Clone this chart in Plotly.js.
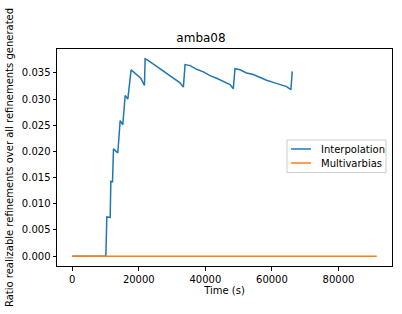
<!DOCTYPE html>
<html>
<head>
<meta charset="utf-8">
<script src="https://cdn.plot.ly/plotly-3.0.1.min.js"></script>
<style>html,body{margin:0;padding:0;background:#fff}#c{width:402px;height:314px}</style>
</head>
<body>
<div id="c"></div>
<script>
const interpTime = [0, 5000, 10100, 10400, 11400, 11600, 12100, 12400, 13700, 14400, 15200, 15900, 16700, 17700, 18400, 19400, 20600, 21700, 21900, 22800, 24400, 26400, 28400, 30400, 32400, 33400, 33900, 35400, 37400, 39400, 41400, 43400, 45400, 47400, 48400, 48900, 50400, 52400, 54400, 56400, 58400, 60400, 62400, 64400, 65700, 66100];
const interpRatio = [0, 0, 0, 0.0075, 0.0074, 0.0143, 0.0142, 0.0205, 0.0197, 0.0259, 0.0251, 0.0307, 0.0300, 0.0356, 0.0352, 0.0348, 0.0340, 0.0326, 0.0377, 0.0374, 0.0367, 0.0358, 0.0348, 0.0340, 0.0331, 0.0323, 0.0366, 0.0364, 0.0357, 0.0352, 0.0345, 0.0340, 0.0334, 0.0328, 0.0320, 0.0358, 0.0356, 0.0350, 0.0347, 0.0341, 0.0336, 0.0332, 0.0328, 0.0324, 0.0318, 0.0353];
const multiTime = [0, 91500];
const multiRatio = [0, 0];
const seriesNames = ["Interpolation", "Multivarbias"];
const seriesColors = ["#1f77b4", "#ff7f0e"];
const yTicks = [0, 0.005, 0.010, 0.015, 0.020, 0.025, 0.030, 0.035];
const xTicks = [0, 20000, 40000, 60000, 80000];

const font = {family: "DejaVu Sans", size: 10, color: "#000"};
const axisCommon = {
  showline: true, linecolor: "#000", linewidth: 1, mirror: true,
  ticks: "outside", ticklen: 3.5, tickwidth: 1, tickcolor: "#000",
  showgrid: false, zeroline: false, tickfont: font
};

// manual matplotlib-style legend (paper coordinates)
const W = 335, H = 217, L = 57, B = 266;
const px = v => (v - L) / W, py = v => (B - v) / H;
const legRows = [149, 163];
const shapes = [{type: "rect", xref: "paper", yref: "paper", x0: px(287), x1: px(386), y0: py(172.5), y1: py(140),
  line: {color: "#cccccc", width: 1}, fillcolor: "rgba(255,255,255,0.8)", layer: "above"}];
const annotations = [];
seriesNames.forEach((n, i) => {
  shapes.push({type: "line", xref: "paper", yref: "paper", x0: px(291), x1: px(311), y0: py(legRows[i]), y1: py(legRows[i]),
    line: {color: seriesColors[i], width: 1.5}, layer: "above"});
  annotations.push({xref: "paper", yref: "paper", x: px(319), y: py(legRows[i]), xanchor: "left", yanchor: "middle",
    text: n, showarrow: false, font: font});
});

Plotly.newPlot("c", [
  {x: interpTime, y: interpRatio, mode: "lines", name: seriesNames[0], line: {color: seriesColors[0], width: 1.5}},
  {x: multiTime, y: multiRatio, mode: "lines", name: seriesNames[1], line: {color: seriesColors[1], width: 1.5}}
], {
  width: 402, height: 314,
  margin: {l: 57, r: 10, t: 49, b: 48, pad: 0},
  paper_bgcolor: "#fff", plot_bgcolor: "#fff",
  font: font,
  title: {text: "amba08", font: {family: "DejaVu Sans", size: 12, color: "#000"}, x: 0.5, xanchor: "center", y: 1 - 38/314, yanchor: "middle"},
  xaxis: Object.assign({}, axisCommon, {
    range: [-4575, 96075], tickvals: xTicks, ticktext: xTicks.map(String),
    title: {text: "Time (s)", font: font, standoff: 3}
  }),
  yaxis: Object.assign({}, axisCommon, {
    range: [-0.00188, 0.03958], tickvals: yTicks, ticktext: yTicks.map(v => v.toFixed(3)),
    title: {text: "Ratio realizable refinements over all refinements generated", font: font, standoff: 6}
  }),
  showlegend: false,
  shapes: shapes,
  annotations: annotations
}, {staticPlot: true, displayModeBar: false});
</script>
</body>
</html>
